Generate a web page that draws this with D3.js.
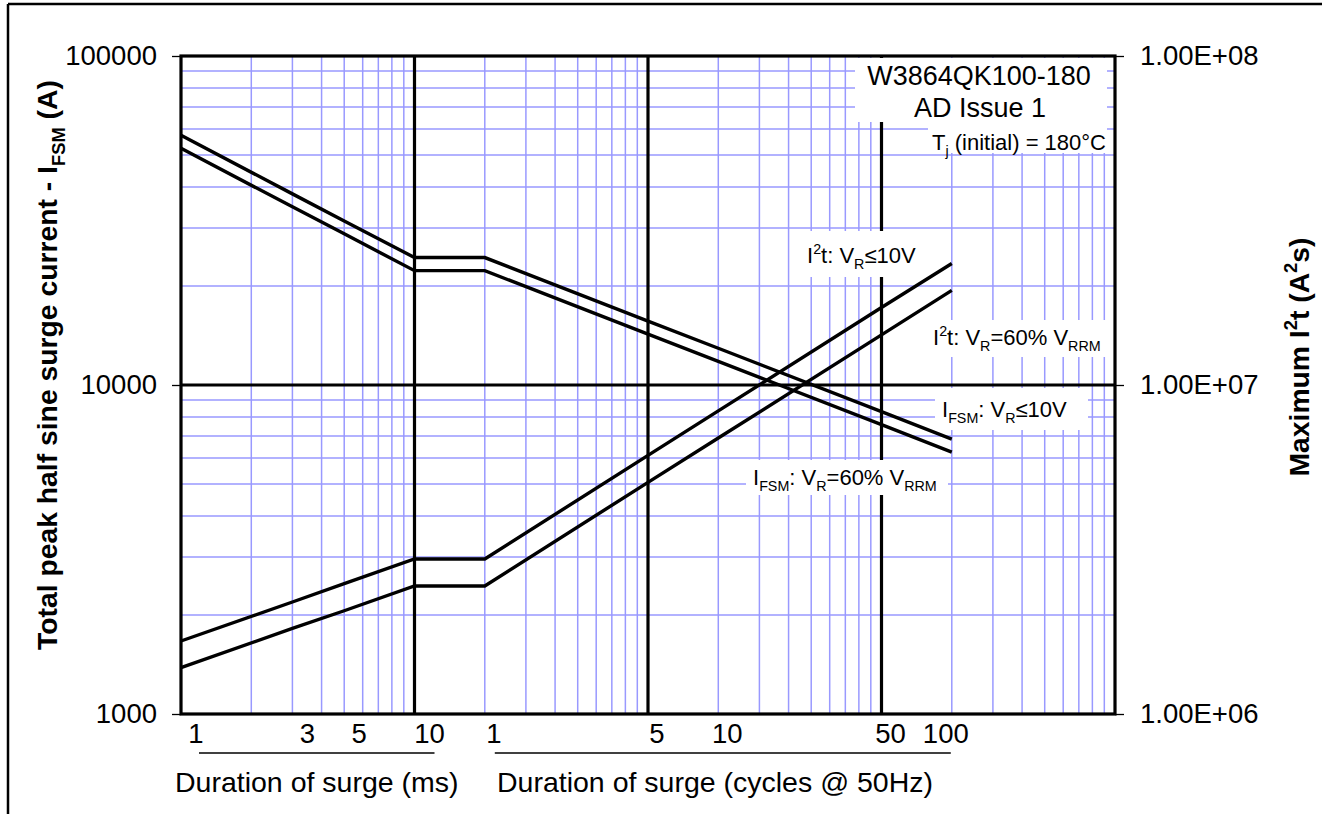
<!DOCTYPE html>
<html><head><meta charset="utf-8">
<script src="https://cdn.jsdelivr.net/npm/d3@7"></script>
<style>body{margin:0;background:#fff} text{font-family:"Liberation Sans",Arial,sans-serif;fill:#000}</style>
</head><body><svg id="c" width="1322" height="814"></svg>
<script>
// ---- data ----
const durationMs = [1, 3, 5, 10, 20, 100, 200, 1000, 2000];
const ifsmVR10  = [57400, 38100, 31500, 24400, 24400, 15640, 12930, 8300, 6850];
const ifsmVR60  = [52400, 34800, 28800, 22260, 22260, 14280, 11800, 7580, 6250];
const i2tVR10   = [1.667e6, 2.19e6, 2.49e6, 2.96e6, 2.96e6, 6.11e6, 8.34e6, 1.72e7, 2.34e7];
const i2tVR60   = [1.383e6, 1.82e6, 2.06e6, 2.45e6, 2.45e6, 5.06e6, 6.90e6, 1.42e7, 1.94e7];
const msTicks = [1, 3, 5, 10];
const cycleTicks = [1, 5, 10, 50, 100];
const msPerCycle = 20;
const leftTicks = [1000, 10000, 100000];
const rightTicks = [1e6, 1e7, 1e8];
const decadesX = [1, 10, 100, 1000];
const decadesY = [1000, 10000];

// ---- layout ----
const W = 1322, H = 814;
const L = 181, R = 1115, T = 56, B = 714;
const svg = d3.select("#c");
const x = d3.scaleLog().domain([1, 10000]).range([L, R]);
const yL = d3.scaleLog().domain([1000, 100000]).range([B, T]);
const yR = d3.scaleLog().domain([1e6, 1e8]).range([B, T]);
const GRID = "#9999ff";

// outer frame
svg.append("line").attr("x1", 8).attr("x2", W).attr("y1", 4).attr("y2", 4).attr("stroke", "#000").attr("stroke-width", 2.5);
svg.append("line").attr("x1", 8).attr("x2", 8).attr("y1", 4).attr("y2", H).attr("stroke", "#000").attr("stroke-width", 2.5);

// minor grid
const gGrid = svg.append("g");
const vMinor = [];
decadesX.forEach(d => { for (let k = 2; k <= 9; k++) vMinor.push(k * d); });
const hMinor = [];
decadesY.forEach(d => { for (let k = 2; k <= 9; k++) hMinor.push(k * d); });
gGrid.selectAll(".vm").data(vMinor).join("line")
  .attr("x1", d => x(d)).attr("x2", d => x(d)).attr("y1", T).attr("y2", B)
  .attr("stroke", GRID).attr("stroke-width", 1.5);
gGrid.selectAll(".hm").data(hMinor).join("line")
  .attr("x1", L).attr("x2", R).attr("y1", d => yL(d)).attr("y2", d => yL(d))
  .attr("stroke", GRID).attr("stroke-width", 1.5);
// major grid
gGrid.selectAll(".vM").data([10, 100, 1000]).join("line")
  .attr("x1", d => x(d)).attr("x2", d => x(d)).attr("y1", T).attr("y2", B)
  .attr("stroke", "#000").attr("stroke-width", 3.2);
gGrid.selectAll(".hM").data([10000]).join("line")
  .attr("x1", L).attr("x2", R).attr("y1", d => yL(d)).attr("y2", d => yL(d))
  .attr("stroke", "#000").attr("stroke-width", 3.2);

// white label boxes
const boxes = [
  [855, 58, 1107, 122], [928, 122, 1107, 153],
  [798, 231, 946, 277], [925, 320, 1107, 357],
  [935, 388, 1088, 430], [746, 460, 948, 495]
];
svg.append("g").selectAll("rect").data(boxes).join("rect")
  .attr("x", d => d[0]).attr("y", d => d[1]).attr("width", d => d[2] - d[0]).attr("height", d => d[3] - d[1])
  .attr("fill", "#fff");

// series
const lineL = d3.line().x(d => x(d[0])).y(d => yL(d[1]));
const lineR = d3.line().x(d => x(d[0])).y(d => yR(d[1]));
const zip = v => durationMs.map((t, i) => [t, v[i]]);
const gS = svg.append("g").attr("fill", "none").attr("stroke", "#000").attr("stroke-width", 3.4).attr("stroke-linejoin", "miter");
gS.append("path").attr("d", lineL(zip(ifsmVR10)));
gS.append("path").attr("d", lineL(zip(ifsmVR60)));
gS.append("path").attr("d", lineR(zip(i2tVR10)));
gS.append("path").attr("d", lineR(zip(i2tVR60)));

// plot border
svg.append("rect").attr("x", L).attr("y", T).attr("width", R - L).attr("height", B - T)
  .attr("fill", "none").attr("stroke", "#000").attr("stroke-width", 3.2);

// axes
const fmtE = d => { const e = Math.round(Math.log10(d)); return (d / 10 ** e).toFixed(2) + "E+" + String(e).padStart(2, "0"); };
const axL = svg.append("g").attr("transform", `translate(${L},0)`)
  .call(d3.axisLeft(yL).tickValues(leftTicks).tickFormat(d3.format("d")).tickSize(9).tickSizeOuter(0).tickPadding(15));
const axR = svg.append("g").attr("transform", `translate(${R},0)`)
  .call(d3.axisRight(yR).tickValues(rightTicks).tickFormat(fmtE).tickSize(9).tickSizeOuter(0).tickPadding(16));
[axL, axR].forEach(a => {
  a.select(".domain").remove();
  a.selectAll(".tick line").attr("stroke", "#000").attr("stroke-width", 1.3);
  a.selectAll("text").attr("font-size", 27.5).attr("font-family", null).attr("fill", "#000");
});

// bottom tick labels
const gx = svg.append("g").attr("font-size", 27.5).attr("text-anchor", "middle");
gx.selectAll(".ms").data(msTicks).join("text")
  .attr("x", d => x(d) + 15).attr("y", 743).text(d => d);
gx.selectAll(".cy").data(cycleTicks).join("text")
  .attr("x", (d, i) => x(d * msPerCycle) + (i === cycleTicks.length - 1 ? -6 : 9)).attr("y", 743).text(d => d);
svg.append("line").attr("x1", x(msTicks[0]) + 18).attr("x2", x(10) + 20).attr("y1", 753).attr("y2", 753).attr("stroke", "#000").attr("stroke-width", 1.3);
svg.append("line").attr("x1", x(msPerCycle) + 10).attr("x2", x(100 * msPerCycle) - 1).attr("y1", 753).attr("y2", 753).attr("stroke", "#000").attr("stroke-width", 1.3);
svg.append("text").attr("x", 175).attr("y", 792).attr("font-size", 28.5).text("Duration of surge (ms)");
svg.append("text").attr("x", 497).attr("y", 792).attr("font-size", 28.5).text("Duration of surge (cycles @ 50Hz)");

// rich text helper
function rich(sel, parts, size) {
  let shift = 0;
  parts.forEach(p => {
    const target = p.sub ? size * 0.28 : p.sup ? -size * 0.42 : 0;
    sel.append("tspan").attr("dy", target - shift).attr("font-size", (p.sub || p.sup) ? size * 0.65 : size).text(p.t);
    shift = target;
  });
  return sel;
}

// axis titles
rich(svg.append("text").attr("transform", "translate(57,365) rotate(-90)").attr("text-anchor", "middle").attr("font-weight", "bold"),
  [{t: "Total peak half sine surge current - I"}, {t: "FSM", sub: 1}, {t: " (A)"}], 28.3);
rich(svg.append("text").attr("transform", "translate(1309,357) rotate(-90)").attr("text-anchor", "middle").attr("font-weight", "bold"),
  [{t: "Maximum I"}, {t: "2", sup: 1}, {t: "t (A"}, {t: "2", sup: 1}, {t: "s)"}], 28.3);

// info box
svg.append("text").attr("x", 979).attr("y", 85).attr("text-anchor", "middle").attr("font-size", 27).text("W3864QK100-180");
svg.append("text").attr("x", 980).attr("y", 117).attr("text-anchor", "middle").attr("font-size", 27).text("AD Issue 1");
rich(svg.append("text").attr("x", 932).attr("y", 150), [{t: "T"}, {t: "j", sub: 1}, {t: " (initial) = 180°C"}], 22);

// series labels
rich(svg.append("text").attr("x", 807).attr("y", 263), [{t: "I"}, {t: "2", sup: 1}, {t: "t: V"}, {t: "R", sub: 1}, {t: "≤10V"}], 22);
rich(svg.append("text").attr("x", 933).attr("y", 345), [{t: "I"}, {t: "2", sup: 1}, {t: "t: V"}, {t: "R", sub: 1}, {t: "=60% V"}, {t: "RRM", sub: 1}], 22);
rich(svg.append("text").attr("x", 942).attr("y", 417), [{t: "I"}, {t: "FSM", sub: 1}, {t: ": V"}, {t: "R", sub: 1}, {t: "≤10V"}], 22);
rich(svg.append("text").attr("x", 753).attr("y", 485), [{t: "I"}, {t: "FSM", sub: 1}, {t: ": V"}, {t: "R", sub: 1}, {t: "=60% V"}, {t: "RRM", sub: 1}], 22);
</script></body></html>
